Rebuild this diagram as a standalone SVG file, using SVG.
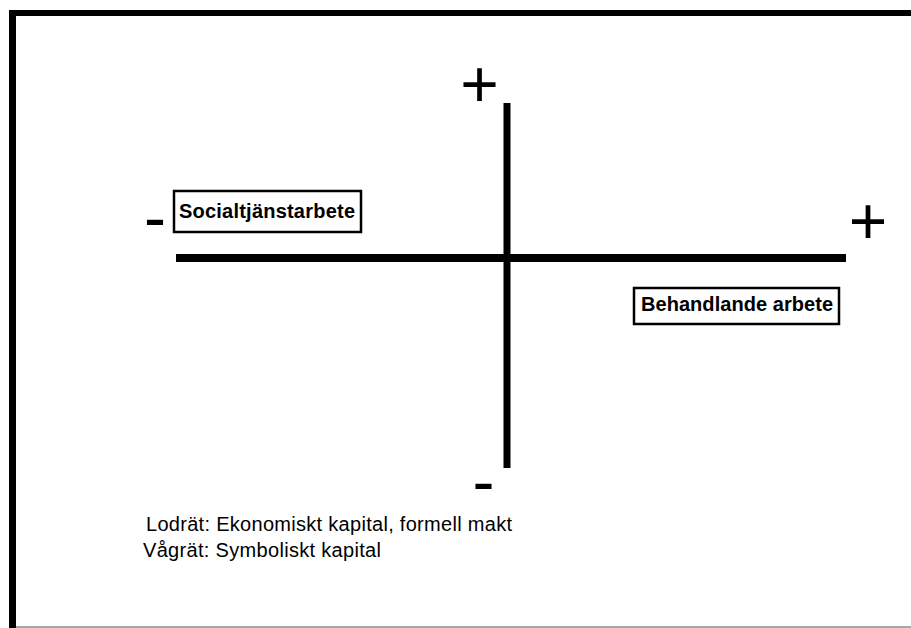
<svg xmlns="http://www.w3.org/2000/svg" width="911" height="628" viewBox="0 0 911 628">
<style>
.sign{font-family:"Liberation Sans",Arial,sans-serif;font-size:66px;fill:#000;text-anchor:middle}
.lbl{font-family:"Liberation Sans",Arial,sans-serif;font-size:20px;font-weight:bold;fill:#000}
.note{font-family:"Liberation Sans",Arial,sans-serif;font-size:20px;fill:#000}
.box{fill:#fff;stroke:#000;stroke-width:2.5}
.axis{stroke:#000;fill:none}
</style>
<rect width="911" height="628" fill="#fff"/>
<g id="frame">
<rect x="9" y="10" width="902" height="6" fill="#000"/>
<rect x="9" y="10" width="7" height="618" fill="#000"/>
<line x1="16" y1="627" x2="911" y2="627" stroke="#888" stroke-width="1.5"/>
</g>
<g id="connectors">
<line class="axis" x1="176" y1="258" x2="846" y2="258" stroke-width="8"/>
<line class="axis" x1="507" y1="103" x2="507" y2="468" stroke-width="7"/>
</g>
<g id="signs">
<text class="sign" x="479.5" y="107">+</text>
<text class="sign" x="868" y="244">+</text>
<text class="sign" x="155" y="240">-</text>
<text class="sign" x="483.5" y="504">-</text>
</g>
<g id="node-socialtjanst">
<rect class="box" x="174" y="191" width="187" height="41"/>
<text class="lbl" x="179" y="218" textLength="176" lengthAdjust="spacing">Socialtjänstarbete</text>
</g>
<g id="node-behandlande">
<rect class="box" x="634" y="288" width="205" height="36"/>
<text class="lbl" x="641" y="311" textLength="192" lengthAdjust="spacing">Behandlande arbete</text>
</g>
<g id="legend">
<text class="note" x="146" y="531" textLength="366" lengthAdjust="spacing">Lodrät: Ekonomiskt kapital, formell makt</text>
<text class="note" x="143" y="557" textLength="238" lengthAdjust="spacing">Vågrät: Symboliskt kapital</text>
</g>
</svg>
